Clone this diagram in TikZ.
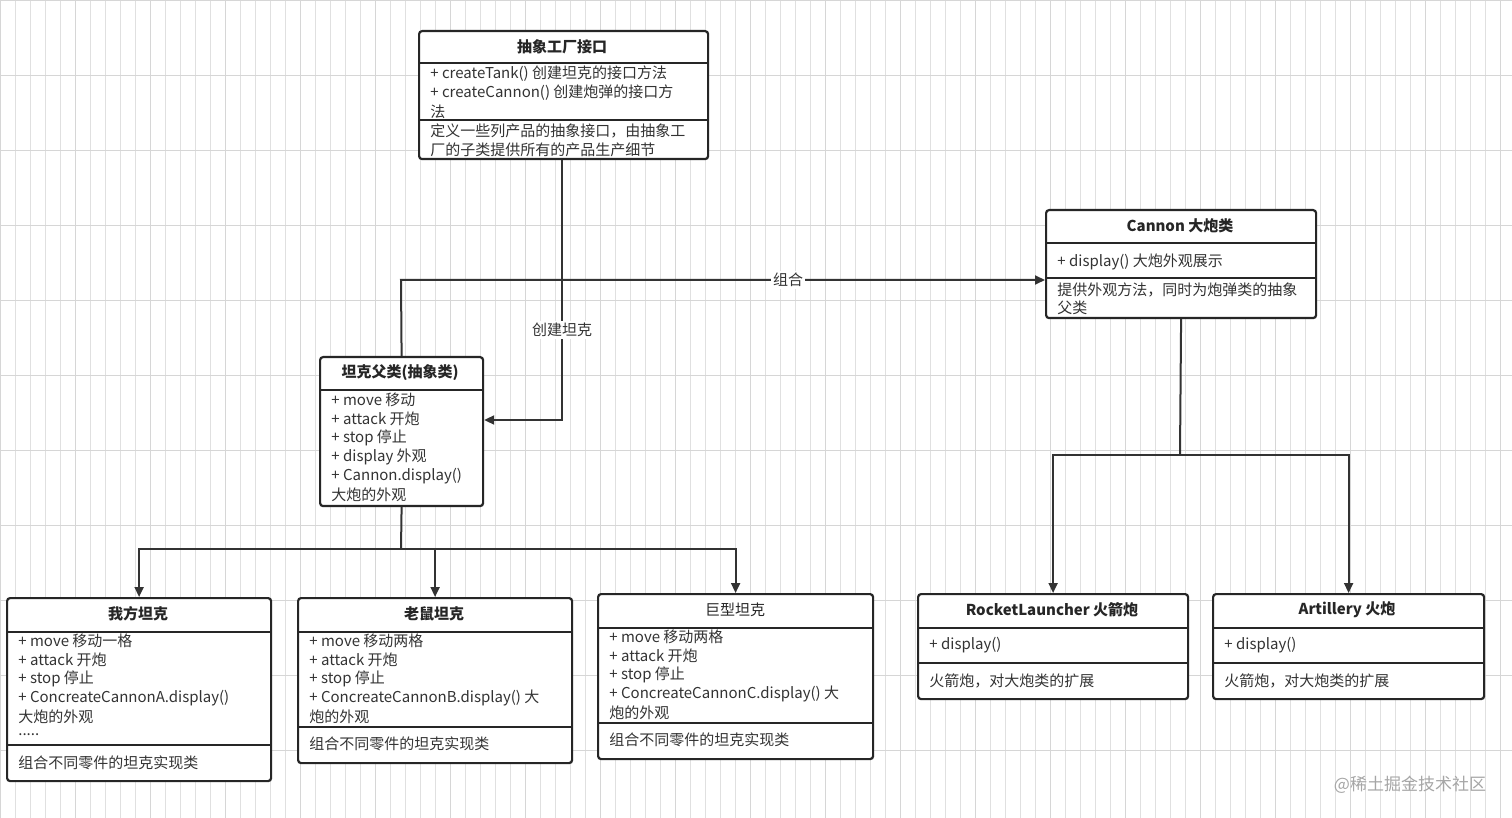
\documentclass[tikz,border=0pt]{standalone}
\usepackage{fontspec}
\setmainfont{Noto Sans CJK SC}
\usetikzlibrary{arrows.meta}
\begin{document}
\begin{tikzpicture}[x=0.5pt,y=-0.5pt,
 box/.style={draw=black!85,line width=1.1pt,rounded corners=1.5pt,fill=white,inner sep=0,anchor=north west},
 sep/.style={draw=black!85,line width=1pt},
 t/.style={anchor=west,inner sep=0,font=\fontsize{7.5}{8}\selectfont,text=black!80},
 h/.style={anchor=center,inner sep=0,font=\fontsize{7.5}{8}\selectfont\bfseries,text=black!85},
 con/.style={draw=black!80,line width=1pt},
 arr/.style={con,-{Triangle[length=5pt,width=4.5pt]}},
 lab/.style={fill=white,inner sep=1pt,font=\fontsize{7.5}{8}\selectfont,text=black!80}]
\useasboundingbox (0,0) rectangle (1512,818);
\fill[white] (0,0) rectangle (1512,818);
\draw[black!12,line width=0.3pt,step=15] (0,0) grid (1512,818);
\foreach \x in {0,75,...,1512} \draw[black!16,line width=0.4pt] (\x,0)--(\x,818);
\foreach \y in {0,75,...,818} \draw[black!16,line width=0.4pt] (0,\y)--(1512,\y);
% connectors
\coordinate (c1) at (562,420); \coordinate (c2) at (401,280);
\coordinate (j1) at (401,549); \coordinate (j2) at (1180,455);
% boxes
\node[box,minimum width=144.5pt,minimum height=64pt] (f) at (418,30) {};
\draw[sep] (418,63)--(707,63) (418,120)--(707,120);
\node[h] at (562,47) {抽象工厂接口};
\node[t] at (430,74) {+ createTank() 创建坦克的接口方法};
\node[t] at (430,93) {+ createCannon() 创建炮弹的接口方};
\node[t] at (430,112) {法};
\node[t] at (430,131) {定义一些列产品的抽象接口，由抽象工};
\node[t] at (430,150) {厂的子类提供所有的产品生产细节};

\node[box,minimum width=135pt,minimum height=54pt] (c) at (1045,209) {};
\draw[sep] (1045,243)--(1315,243) (1045,278)--(1315,278);
\node[h] at (1180,226) {Cannon 大炮类};
\node[t] at (1057,262) {+ display() 大炮外观展示};
\node[t] at (1057,290) {提供外观方法，同时为炮弹类的抽象};
\node[t] at (1057,308) {父类};

\node[box,minimum width=81.5pt,minimum height=74.5pt] (p) at (319,356) {};
\draw[sep] (319,390)--(482,390);
\node[h] at (400,373) {坦克父类(抽象类)};
\node[t] at (331,400) {+ move 移动};
\node[t] at (331,419) {+ attack 开炮};
\node[t] at (331,438) {+ stop 停止};
\node[t] at (331,457) {+ display 外观};
\node[t] at (331,476) {+ Cannon.display()};
\node[t] at (331,495) {大炮的外观};

\node[box,minimum width=132pt,minimum height=91.5pt] (a) at (6,597) {};
\draw[sep] (6,632)--(270,632) (6,745)--(270,745);
\node[h] at (138,614) {我方坦克};
\node[t] at (18,641) {+ move 移动一格};
\node[t] at (18,660) {+ attack 开炮};
\node[t] at (18,679) {+ stop 停止};
\node[t] at (18,698) {+ ConcreateCannonA.display()};
\node[t] at (18,717) {大炮的外观};
\node[t] at (18,735) {.....};
\node[t] at (18,763) {组合不同零件的坦克实现类};

\node[box,minimum width=137pt,minimum height=82.5pt] (b) at (297,597) {};
\draw[sep] (297,632)--(571,632) (297,727)--(571,727);
\node[h] at (434,614) {老鼠坦克};
\node[t] at (309,641) {+ move 移动两格};
\node[t] at (309,660) {+ attack 开炮};
\node[t] at (309,679) {+ stop 停止};
\node[t] at (309,698) {+ ConcreateCannonB.display() 大};
\node[t] at (309,717) {炮的外观};
\node[t] at (309,744) {组合不同零件的坦克实现类};

\node[box,minimum width=137.5pt,minimum height=82.5pt] (g) at (597,593) {};
\draw[sep] (597,628)--(872,628) (597,723)--(872,723);
\node[h,font=\fontsize{7.5}{8}\selectfont] at (735,610) {巨型坦克};
\node[t] at (609,637) {+ move 移动两格};
\node[t] at (609,656) {+ attack 开炮};
\node[t] at (609,675) {+ stop 停止};
\node[t] at (609,694) {+ ConcreateCannonC.display() 大};
\node[t] at (609,713) {炮的外观};
\node[t] at (609,740) {组合不同零件的坦克实现类};

\node[box,minimum width=135pt,minimum height=52.5pt] (r) at (917,593) {};
\draw[sep] (917,628)--(1187,628) (917,663)--(1187,663);
\node[h] at (1052,610) {RocketLauncher 火箭炮};
\node[t] at (929,645) {+ display()};
\node[t] at (929,681) {火箭炮，对大炮类的扩展};

\node[box,minimum width=135.5pt,minimum height=52.5pt] (l) at (1212,593) {};
\draw[sep] (1212,628)--(1483,628) (1212,663)--(1483,663);
\node[h] at (1347,610) {Artillery 火炮};
\node[t] at (1224,645) {+ display()};
\node[t] at (1224,681) {火箭炮，对大炮类的扩展};

\draw[arr] (f.south -| c1) -- (c1) -- (p.east |- c1);
\node[lab] at (562,330) {创建坦克};
\draw[arr] (p.north) -- (c2) -- (c.west |- c2);
\node[lab] at (788,280) {组合};
\draw[con] (p.south) -- (j1);
\draw[arr] (j1) -| (a.north);
\draw[arr] (j1) -| (b.north);
\draw[arr] (j1) -| (g.north);
\draw[con] (c.south) -- (j2);
\draw[arr] (j2) -| (r.north);
\draw[arr] (j2) -| (l.north);
\node[anchor=center,inner sep=0,font=\fontsize{8.5}{9}\selectfont,text=black!35] (w) at (1410,785) {@稀土掘金技术社区};
\end{tikzpicture}
\end{document}
